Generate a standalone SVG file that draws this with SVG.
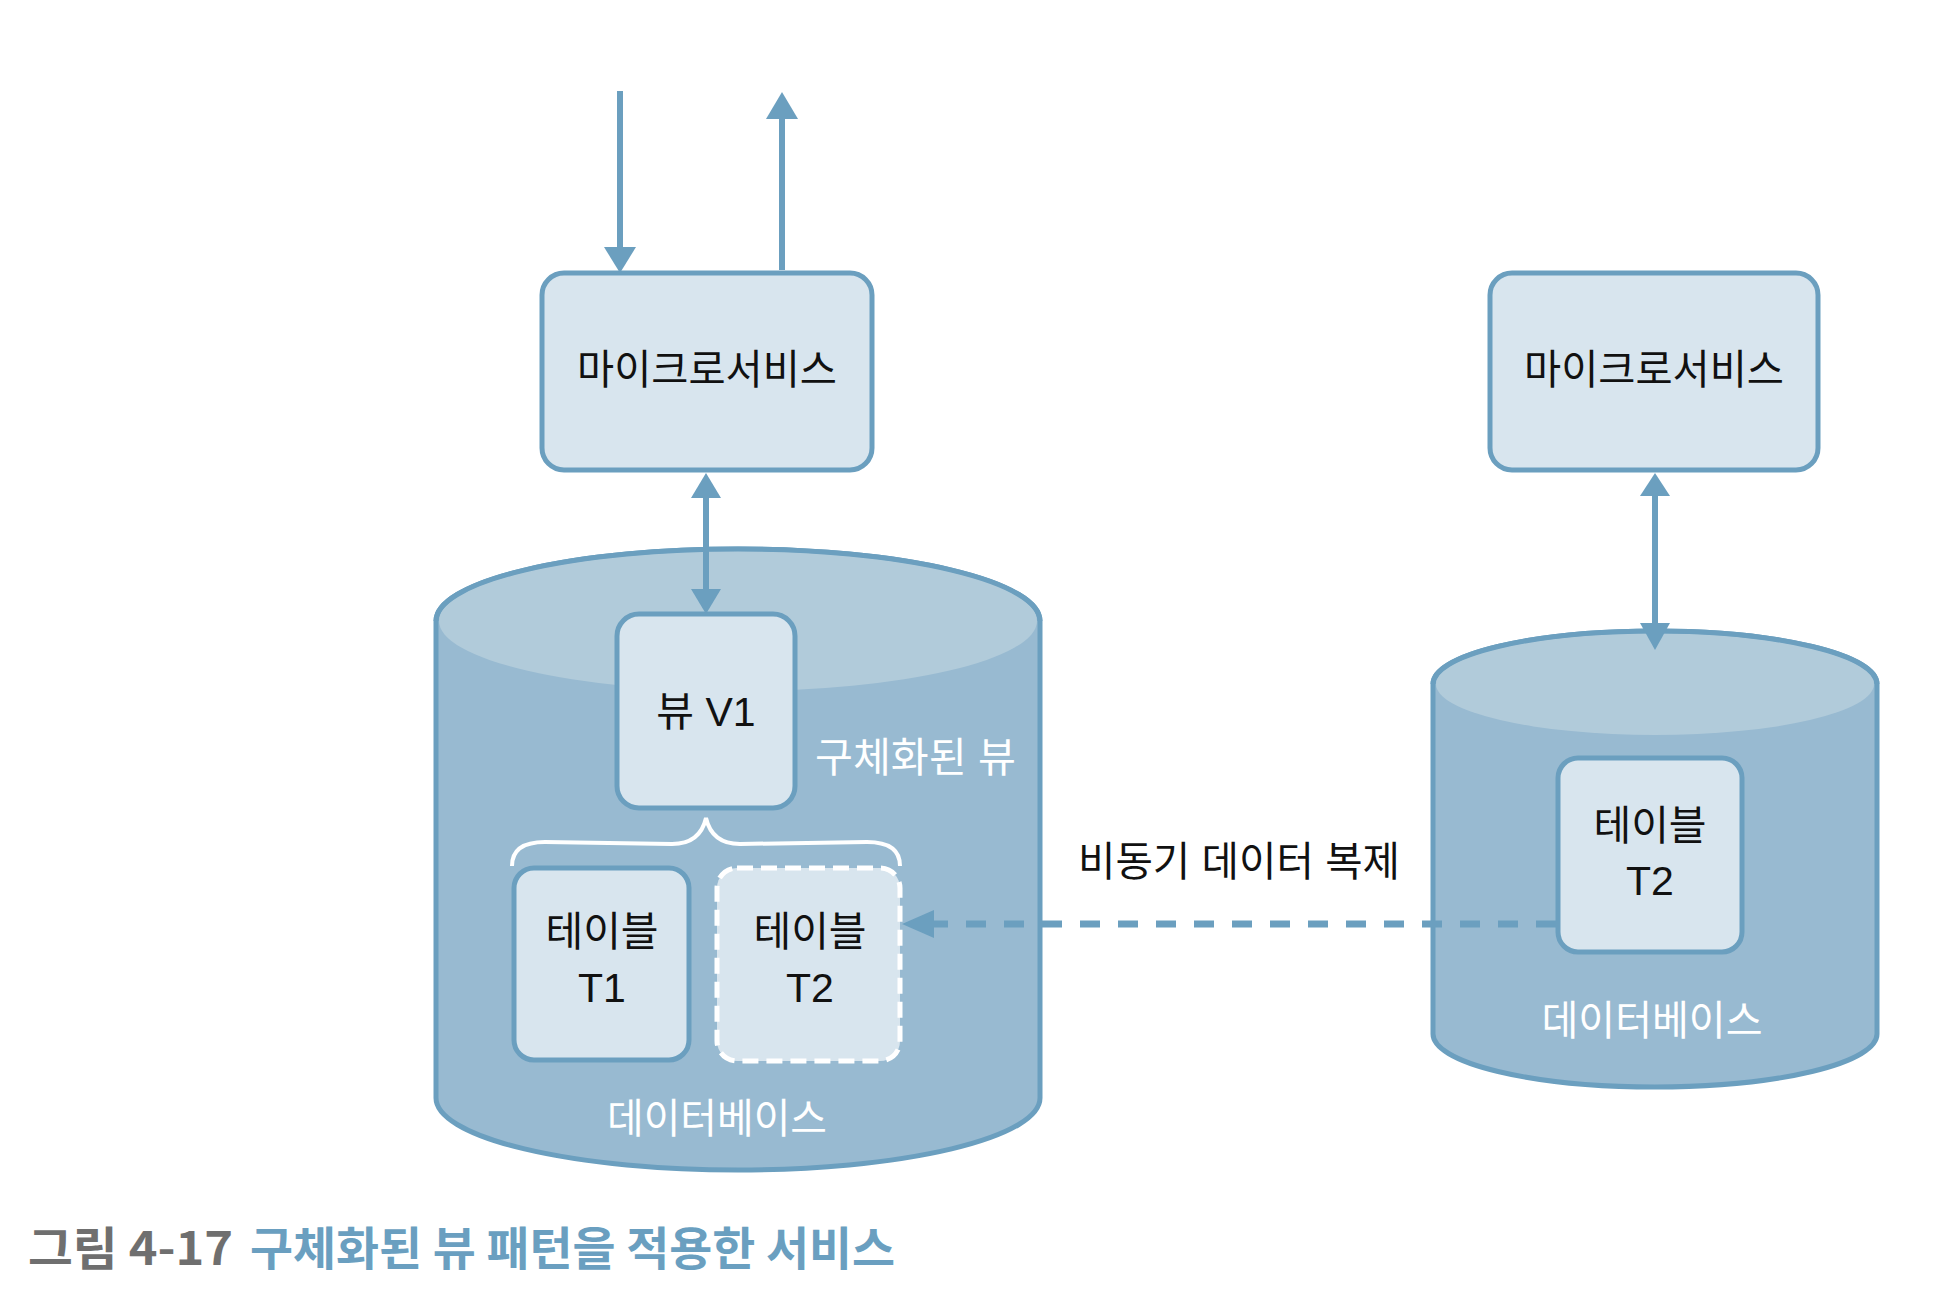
<svg xmlns="http://www.w3.org/2000/svg" width="1942" height="1296" viewBox="0 0 1942 1296">
<defs>
<style>
.box{fill:#d8e5ee;stroke:#6b9fbf;stroke-width:5}
.dbbody{fill:#98bad1;stroke:#6b9fbf;stroke-width:5}
.dbtop{fill:#b1cbda;stroke:none}
.dbrim{fill:none;stroke:#6b9fbf;stroke-width:5}
.t{font-family:"Liberation Sans","Noto Sans CJK KR",sans-serif;font-size:41px;fill:#111;text-anchor:middle}
.w{fill:#ffffff}
.line{stroke:#6b9fbf;stroke-width:6;fill:none}
.dash{stroke:#6b9fbf;stroke-width:7;fill:none;stroke-dasharray:20 18}
.head{fill:#6b9fbf}
.cap{font-family:"Noto Sans CJK KR","Noto Sans",sans-serif;font-size:46px;font-weight:bold}
</style>
</defs>
<rect width="1942" height="1296" fill="#ffffff"/>

<g id="db-left">
<path class="dbbody" d="M436 621 A302 72 0 0 1 1040 621 L1040 1098 A302 72 0 0 1 436 1098 Z"/>
<ellipse class="dbtop" cx="738" cy="621" rx="299" ry="70"/>
<path class="dbrim" d="M436 621 A302 72 0 0 1 1040 621"/>
<text class="t w" x="717" y="1133" textLength="220" lengthAdjust="spacingAndGlyphs">데이터베이스</text>
<text class="t w" x="815" y="772" style="text-anchor:start" textLength="201" lengthAdjust="spacingAndGlyphs">구체화된 뷰</text>
</g>

<g id="db-right">
<path class="dbbody" d="M1433 684 A222 53 0 0 1 1877 684 L1877 1034 A222 53 0 0 1 1433 1034 Z"/>
<ellipse class="dbtop" cx="1655" cy="684" rx="219" ry="51"/>
<path class="dbrim" d="M1433 684 A222 53 0 0 1 1877 684"/>
<text class="t w" x="1652" y="1035" textLength="221" lengthAdjust="spacingAndGlyphs">데이터베이스</text>
</g>

<g id="ms-left">
<rect class="box" x="542" y="273" width="330" height="197" rx="22"/>
<text class="t" x="707" y="384" textLength="260" lengthAdjust="spacingAndGlyphs">마이크로서비스</text>
</g>

<g id="ms-right">
<rect class="box" x="1490" y="273" width="328" height="197" rx="22"/>
<text class="t" x="1654" y="384" textLength="260" lengthAdjust="spacingAndGlyphs">마이크로서비스</text>
</g>

<g id="view-v1">
<rect class="box" x="617" y="614" width="178" height="194" rx="22"/>
<text class="t" x="706" y="726">뷰 V1</text>
</g>

<g id="brace">
<path d="M512 866 Q512 842 545 842 L672 844 Q700 844 706 818 Q712 844 740 844 L867 842 Q900 842 900 866" fill="none" stroke="#ffffff" stroke-width="4"/>
</g>

<g id="table-t1">
<rect class="box" x="514" y="868" width="175" height="192" rx="20"/>
<text class="t" x="602" y="946">테이블</text>
<text class="t" x="602" y="1002">T1</text>
</g>

<g id="table-t2-copy">
<rect x="717" y="868" width="183" height="193" rx="20" fill="#d8e5ee" stroke="#ffffff" stroke-width="5" stroke-dasharray="16 8"/>
<text class="t" x="810" y="946">테이블</text>
<text class="t" x="810" y="1002">T2</text>
</g>

<g id="table-t2">
<rect class="box" x="1558" y="758" width="184" height="194" rx="20"/>
<text class="t" x="1650" y="840">테이블</text>
<text class="t" x="1650" y="895">T2</text>
</g>

<g id="connectors">
<line class="line" x1="620" y1="91" x2="620" y2="250"/>
<polygon class="head" points="620,273 604,247 636,247"/>
<line class="line" x1="782" y1="270" x2="782" y2="115"/>
<polygon class="head" points="782,92 766,119 798,119"/>
<line class="line" x1="706" y1="495" x2="706" y2="592"/>
<polygon class="head" points="706,473 691,498 721,498"/>
<polygon class="head" points="706,614 691,589 721,589"/>
<line class="line" x1="1655" y1="492" x2="1655" y2="626"/>
<polygon class="head" points="1655,473 1640,496 1670,496"/>
<polygon class="head" points="1655,650 1640,623 1670,623"/>
<line class="dash" x1="1556" y1="924" x2="934" y2="924"/>
<polygon class="head" points="902,924 934,910 934,938"/>
<text class="t" x="1239" y="876" textLength="322" lengthAdjust="spacingAndGlyphs">비동기 데이터 복제</text>
</g>

<g id="caption">
<text class="cap" x="28" y="1265" fill="#6f6f6f" textLength="205" lengthAdjust="spacingAndGlyphs">그림 4-17</text>
<text class="cap" x="250" y="1265" fill="#6a9fc0" textLength="645" lengthAdjust="spacingAndGlyphs">구체화된 뷰 패턴을 적용한 서비스</text>
</g>
</svg>
